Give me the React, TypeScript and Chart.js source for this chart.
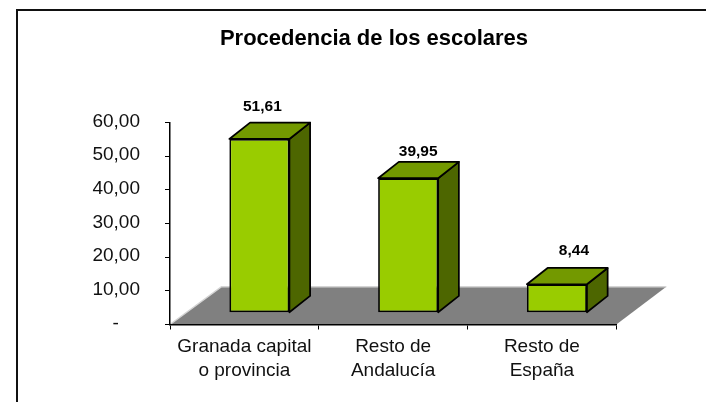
import React, { useEffect, useRef } from "react";
import { Chart, registerables } from "chart.js";

Chart.register(...registerables);

const categories = [["Granada capital", "o provincia"], ["Resto de", "Andalucía"], ["Resto de", "España"]];
const seriesValues = [51.61, 39.95, 8.44];
const valueLabels = ["51,61", "39,95", "8,44"];
const yTickLabels = ["-    ", "10,00", "20,00", "30,00", "40,00", "50,00", "60,00"];
const chartTitle = "Procedencia de los escolares";

const FONT = "'Liberation Sans', Arial, sans-serif";
const BAR_SHIFT = { x: 15, y: -11.8 };
const BAR_DEPTH = { x: 20.7, y: 16.3 };
const FLOOR_DEPTH = { left: 51.5, right: 50, y: 37.8 };
const LABEL_NUDGE = [
  { x: 3, y: -32.2 },
  { x: 10, y: -26.9 },
  { x: 17, y: -33.6 },
];

const poly = (ctx: CanvasRenderingContext2D, pts: number[][], fill: string) => {
  ctx.beginPath();
  pts.forEach(([x, y], i) => (i ? ctx.lineTo(x, y) : ctx.moveTo(x, y)));
  ctx.closePath();
  ctx.fillStyle = fill;
  ctx.fill();
  ctx.stroke();
};

const bar3d = {
  id: "bar3d",
  afterLayout(chart: any) {
    // let the y labels use the whole left margin
    const y = chart.scales.y;
    y.left = 0;
    y.width = y.right;
  },
  beforeDraw(chart: any) {
    const { ctx, chartArea: a } = chart;
    const b = a.bottom;
    ctx.save();
    ctx.fillStyle = "#ffffff";
    ctx.fillRect(0, 0, chart.width, chart.height);
    // frame
    ctx.strokeStyle = "#111111";
    ctx.lineWidth = 2;
    ctx.beginPath();
    ctx.moveTo(17, chart.height);
    ctx.lineTo(17, 10);
    ctx.lineTo(chart.width, 10);
    ctx.stroke();
    // floor
    const pts = [
      [a.left, b],
      [a.right, b],
      [a.right + FLOOR_DEPTH.right, b - FLOOR_DEPTH.y],
      [a.left + FLOOR_DEPTH.left, b - FLOOR_DEPTH.y],
    ];
    ctx.beginPath();
    pts.forEach(([x, y], i) => (i ? ctx.lineTo(x, y) : ctx.moveTo(x, y)));
    ctx.closePath();
    ctx.fillStyle = "#808080";
    ctx.fill();
    ctx.strokeStyle = "#d4d4d4";
    ctx.lineWidth = 1.5;
    ctx.beginPath();
    ctx.moveTo(pts[0][0], pts[0][1]);
    ctx.lineTo(pts[3][0], pts[3][1]);
    ctx.lineTo(pts[2][0], pts[2][1]);
    ctx.stroke();
    ctx.restore();
  },
  beforeDatasetDraw(chart: any, args: any) {
    const { ctx } = chart;
    const meta = chart.getDatasetMeta(args.index);
    ctx.save();
    ctx.translate(BAR_SHIFT.x, BAR_SHIFT.y);
    ctx.strokeStyle = "#000000";
    ctx.lineWidth = 1.75;
    ctx.lineJoin = "round";
    const { x: dx, y: dy } = BAR_DEPTH;
    meta.data.forEach((el: any) => {
      const { x, y, base, width } = el.getProps(["x", "y", "base", "width"], true);
      const x0 = x - width / 2;
      const x1 = x + width / 2;
      poly(ctx, [[x1, y], [x1 + dx, y - dy], [x1 + dx, base - dy], [x1, base]], "#4d6600");
      poly(ctx, [[x0, y], [x1, y], [x1 + dx, y - dy], [x0 + dx, y - dy]], "#739900");
    });
  },
  afterDatasetDraw(chart: any) {
    chart.ctx.restore();
  },
  afterDatasetsDraw(chart: any) {
    const { ctx } = chart;
    const meta = chart.getDatasetMeta(0);
    ctx.save();
    ctx.font = `bold 15.5px ${FONT}`;
    ctx.fillStyle = "#000000";
    ctx.textAlign = "center";
    ctx.textBaseline = "middle";
    meta.data.forEach((el: any, i: number) => {
      const { x, y } = el.getProps(["x", "y"], true);
      ctx.fillText(valueLabels[i], x + BAR_SHIFT.x + LABEL_NUDGE[i].x, y + BAR_SHIFT.y + LABEL_NUDGE[i].y);
    });
    ctx.restore();
  },
};

export default function App() {
  const ref = useRef<HTMLCanvasElement>(null);
  useEffect(() => {
    document.body.style.margin = "0";
    const chart = new Chart(ref.current!, {
      type: "bar",
      data: {
        labels: categories as any,
        datasets: [
          {
            data: seriesValues,
            backgroundColor: "#99cc00",
            borderColor: "#000000",
            borderWidth: 1.75,
            borderSkipped: false,
            inflateAmount: 0,
            categoryPercentage: 1,
            barPercentage: 0.4036,
            clip: false,
          } as any,
        ],
      },
      plugins: [bar3d],
      options: {
        animation: false,
        responsive: false,
        layout: { padding: { left: 131.7, right: 89.7, top: 0, bottom: 0 } },
        plugins: {
          legend: { display: false },
          tooltip: { enabled: false },
          title: {
            display: true,
            text: chartTitle,
            color: "#000000",
            font: { family: FONT, size: 22, weight: "bold", lineHeight: 1.2 },
            padding: { top: 25.5, bottom: 70.6 },
          },
        },
        scales: {
          x: {
            afterFit: (s: any) => {
              s.height = 77.5;
            },
            border: { color: "#000000", width: 1.5 },
            grid: { drawOnChartArea: false, tickLength: 5, tickColor: "#000000", tickWidth: 1, offset: true },
            ticks: {
              color: "#111111",
              autoSkip: false,
              maxRotation: 0,
              padding: 5,
              font: { family: FONT, size: 19, lineHeight: 1.28 },
            },
          },
          y: {
            min: 0,
            max: 60,
            afterFit: (s: any) => {
              s.width = 38.3;
            },
            border: { color: "#000000", width: 1.5 },
            grid: { drawOnChartArea: false, tickLength: 5, tickColor: "#000000", tickWidth: 1 },
            ticks: {
              stepSize: 10,
              color: "#111111",
              padding: 25,
              labelOffset: -1,
              font: { family: FONT, size: 19 },
              callback: (_v: any, i: number) => yTickLabels[i],
            },
          },
        },
      },
    });
    return () => chart.destroy();
  }, []);
  return <canvas ref={ref} width={706} height={402} style={{ display: "block" }} />;
}
